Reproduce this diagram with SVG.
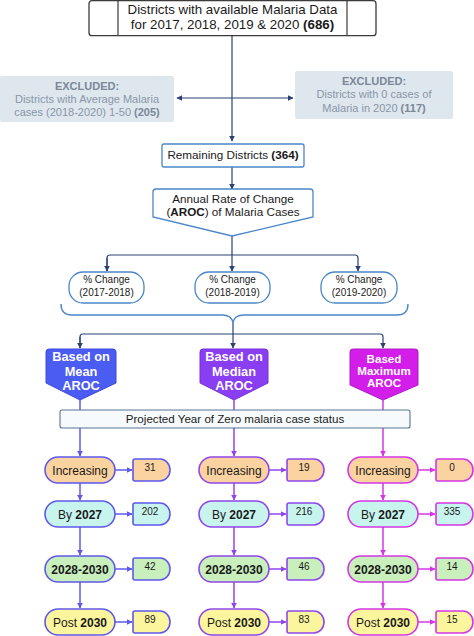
<svg xmlns="http://www.w3.org/2000/svg" width="474" height="636" viewBox="0 0 474 636">
<defs>
<marker id="aN" viewBox="0 0 10 10" refX="9" refY="5" markerWidth="6" markerHeight="6" markerUnits="userSpaceOnUse" orient="auto"><path d="M0,0 L10,5 L0,10 Z" fill="#2b4270"/></marker>
<marker id="a1" viewBox="0 0 10 10" refX="9" refY="5" markerWidth="6" markerHeight="6" markerUnits="userSpaceOnUse" orient="auto"><path d="M0,0 L10,5 L0,10 Z" fill="#5e58ec"/></marker>
<marker id="a2" viewBox="0 0 10 10" refX="9" refY="5" markerWidth="6" markerHeight="6" markerUnits="userSpaceOnUse" orient="auto"><path d="M0,0 L10,5 L0,10 Z" fill="#9046ec"/></marker>
<marker id="a3" viewBox="0 0 10 10" refX="9" refY="5" markerWidth="6" markerHeight="6" markerUnits="userSpaceOnUse" orient="auto"><path d="M0,0 L10,5 L0,10 Z" fill="#d436e4"/></marker>
</defs>
<style>
text{font-family:"Liberation Sans",Arial,sans-serif;text-anchor:middle;}
.b{font-weight:bold;}
.top{font-size:13.3px;fill:#1a1a1a;}
.ex{font-size:11px;fill:#8796a6;}
.exb{font-size:11px;fill:#7a8898;font-weight:bold;}
.mid{font-size:11.7px;fill:#1a1a1a;}
.pc{font-size:10px;fill:#1a1a1a;}
.pent{font-size:12.8px;fill:#ffffff;font-weight:bold;}
.pentm{font-size:11.6px;fill:#ffffff;font-weight:bold;}
.pill{font-size:12px;fill:#1a1a1a;}
.num{font-size:10px;fill:#1a1a1a;}
.blue{fill:#ffffff;stroke:#4a86c8;stroke-width:1.3;}
.exbox{fill:#dfe7ee;stroke:none;}
.nav{fill:none;stroke:#2b4270;stroke-width:1.2;}
.br{fill:none;stroke:#4a86c8;stroke-width:1.4;}
.c1{stroke:#5e58ec;}
.c2{stroke:#9046ec;}
.c3{stroke:#d436e4;}
.ln{fill:none;stroke-width:1.5;}
.inc{fill:#fad3a0;stroke-width:1.6;}
.by{fill:#c8f4ee;stroke-width:1.6;}
.mid2{fill:#c9efbd;stroke-width:1.6;}
.post{fill:#fbf69e;stroke-width:1.6;}
</style>

<g id="connectors">
<path class="nav" d="M232,36 V141" stroke="#5a6a85" marker-end="url(#aN)"/>
<path class="nav" d="M232,98 H177" marker-end="url(#aN)"/>
<path class="nav" d="M232,98 H293" marker-end="url(#aN)"/>
<path class="nav" d="M232,167 V189" marker-end="url(#aN)"/>
<path class="nav" d="M232,236 V255"/>
<path class="nav" d="M107,271 V258 Q107,255 110,255 H355 Q358,255 358,258 V271" marker-end="url(#aN)"/>
<path class="nav" d="M107,258 V271" marker-end="url(#aN)"/>
<path class="nav" d="M232,255 V271" marker-end="url(#aN)"/>
<path class="br" d="M61,304 Q61,315 72,315 H222 Q232,315 233,323 Q234,315 244,315 H397 Q408,315 408,304"/>
<path class="nav" d="M233,323 V334"/>
<path class="nav" d="M80,348 V337 Q80,334 83,334 H380 Q383,334 383,337 V348" marker-end="url(#aN)"/>
<path class="nav" d="M80,337 V348" marker-end="url(#aN)"/>
<path class="nav" d="M233,334 V348" marker-end="url(#aN)"/>
<path class="ln c1" d="M80,400 V456" marker-end="url(#a1)"/>
<path class="ln c2" d="M234,400 V456" marker-end="url(#a2)"/>
<path class="ln c3" d="M383,400 V456" marker-end="url(#a3)"/>
<path class="ln c1" d="M80,483 V500" marker-end="url(#a1)"/>
<path class="ln c1" d="M80,527 V555" marker-end="url(#a1)"/>
<path class="ln c1" d="M80,582 V608" marker-end="url(#a1)"/>
<path class="ln c2" d="M234,483 V500" marker-end="url(#a2)"/>
<path class="ln c2" d="M234,527 V555" marker-end="url(#a2)"/>
<path class="ln c2" d="M234,582 V608" marker-end="url(#a2)"/>
<path class="ln c3" d="M383,483 V500" marker-end="url(#a3)"/>
<path class="ln c3" d="M383,527 V555" marker-end="url(#a3)"/>
<path class="ln c3" d="M383,582 V608" marker-end="url(#a3)"/>
<path class="ln c1" d="M115,470 H132" marker-end="url(#a1)"/>
<path class="ln c1" d="M115,514 H132" marker-end="url(#a1)"/>
<path class="ln c1" d="M115,569 H132" marker-end="url(#a1)"/>
<path class="ln c1" d="M115,622 H132" marker-end="url(#a1)"/>
<path class="ln c2" d="M269,470 H286" marker-end="url(#a2)"/>
<path class="ln c2" d="M269,514 H286" marker-end="url(#a2)"/>
<path class="ln c2" d="M269,569 H286" marker-end="url(#a2)"/>
<path class="ln c2" d="M269,622 H286" marker-end="url(#a2)"/>
<path class="ln c3" d="M418,470 H435" marker-end="url(#a3)"/>
<path class="ln c3" d="M418,514 H435" marker-end="url(#a3)"/>
<path class="ln c3" d="M418,569 H435" marker-end="url(#a3)"/>
<path class="ln c3" d="M418,622 H435" marker-end="url(#a3)"/>
</g>

<g id="n-top">
<rect x="89" y="0.7" width="287" height="35" rx="3" fill="#ffffff" stroke="#3a3a3a" stroke-width="1.3"/>
<path d="M118,0.7 V35.7 M347,0.7 V35.7" stroke="#3a3a3a" stroke-width="1.2"/>
<text class="top" x="232.5" y="14">Districts with available Malaria Data</text>
<text class="top" x="232.5" y="29">for 2017, 2018, 2019 &amp; 2020 <tspan class="b">(686)</tspan></text>
</g>

<g id="n-excl-left">
<rect class="exbox" x="0" y="76" width="174" height="46" rx="2"/>
<text class="exb" x="87" y="90">EXCLUDED:</text>
<text class="ex" x="87" y="103">Districts with Average Malaria</text>
<text class="ex" x="87" y="116">cases (2018-2020) 1-50 <tspan class="b" fill="#7a8898">(205)</tspan></text>
</g>

<g id="n-excl-right">
<rect class="exbox" x="295" y="71" width="158" height="48" rx="2"/>
<text class="exb" x="374" y="85">EXCLUDED:</text>
<text class="ex" x="374" y="98">Districts with 0 cases of</text>
<text class="ex" x="374" y="112">Malaria in 2020 <tspan class="b" fill="#7a8898">(117)</tspan></text>
</g>

<g id="n-remaining">
<rect class="blue" x="162" y="144" width="142" height="23" rx="2"/>
<text class="mid" x="233" y="159">Remaining Districts <tspan class="b">(364)</tspan></text>
</g>

<g id="n-aroc">
<path class="blue" d="M153,192 Q153,189 156,189 H310 Q313,189 313,192 V217 L232,236 L153,217 Z"/>
<text class="mid" x="233" y="203">Annual Rate of Change</text>
<text class="mid" x="233" y="216">(<tspan class="b">AROC</tspan>) of Malaria Cases</text>
</g>

<g id="n-pc1">
<rect class="blue" x="69" y="272" width="75" height="31" rx="14"/>
<text class="pc" x="106.5" y="283">% Change</text>
<text class="pc" x="106.5" y="296">(2017-2018)</text>
</g>
<g id="n-pc2">
<rect class="blue" x="195" y="272" width="75" height="31" rx="14"/>
<text class="pc" x="232.5" y="283">% Change</text>
<text class="pc" x="232.5" y="296">(2018-2019)</text>
</g>
<g id="n-pc3">
<rect class="blue" x="321" y="272" width="76" height="31" rx="14"/>
<text class="pc" x="359" y="283">% Change</text>
<text class="pc" x="359" y="296">(2019-2020)</text>
</g>

<g id="n-mean">
<path d="M46,352 Q46,349 49,349 H113 Q116,349 116,352 V383 L80,400 L46,383 Z" fill="#4a5cf2" stroke="#3c4ad8" stroke-width="1"/>
<text class="pent" x="81" y="361">Based on</text>
<text class="pent" x="81" y="376">Mean</text>
<text class="pent" x="81" y="390">AROC</text>
</g>
<g id="n-median">
<path d="M200,352 Q200,349 203,349 H265 Q268,349 268,352 V383 L234,400 L200,383 Z" fill="#8a3ef2" stroke="#7430d8" stroke-width="1"/>
<text class="pent" x="234" y="361">Based on</text>
<text class="pent" x="234" y="376">Median</text>
<text class="pent" x="234" y="390">AROC</text>
</g>
<g id="n-max">
<path d="M350,352 Q350,349 353,349 H415 Q418,349 418,352 V385 L383,400 L350,385 Z" fill="#d21ee8" stroke="#b018c8" stroke-width="1"/>
<text class="pentm" x="384" y="363">Based</text>
<text class="pentm" x="384" y="375">Maximum</text>
<text class="pentm" x="384" y="387">AROC</text>
</g>

<g id="n-projected">
<rect x="60" y="410" width="350" height="18" rx="2" fill="#f6fafc" stroke="#5a7494" stroke-width="1.1"/>
<text class="mid" x="235" y="423" style="font-size:11.6px">Projected Year of Zero malaria case status</text>
</g>

<g id="n-c1-inc"><rect class="inc c1" x="45" y="457" width="70" height="26" rx="13"/><text class="pill" x="80" y="474.5">Increasing</text></g>
<g id="n-c1-by"><rect class="by c1" x="45" y="501" width="70" height="26" rx="13"/><text class="pill" x="80" y="518.5">By <tspan class="b">2027</tspan></text></g>
<g id="n-c1-mid"><rect class="mid2 c1" x="45" y="556" width="70" height="26" rx="13"/><text class="pill b" x="80" y="573.5">2028-2030</text></g>
<g id="n-c1-post"><rect class="post c1" x="45" y="609" width="70" height="26" rx="13"/><text class="pill" x="80" y="626.5">Post <tspan class="b">2030</tspan></text></g>

<g id="n-c2-inc"><rect class="inc c2" x="199" y="457" width="70" height="26" rx="13"/><text class="pill" x="234" y="474.5">Increasing</text></g>
<g id="n-c2-by"><rect class="by c2" x="199" y="501" width="70" height="26" rx="13"/><text class="pill" x="234" y="518.5">By <tspan class="b">2027</tspan></text></g>
<g id="n-c2-mid"><rect class="mid2 c2" x="199" y="556" width="70" height="26" rx="13"/><text class="pill b" x="234" y="573.5">2028-2030</text></g>
<g id="n-c2-post"><rect class="post c2" x="199" y="609" width="70" height="26" rx="13"/><text class="pill" x="234" y="626.5">Post <tspan class="b">2030</tspan></text></g>

<g id="n-c3-inc"><rect class="inc c3" x="348" y="457" width="70" height="26" rx="13"/><text class="pill" x="383" y="474.5">Increasing</text></g>
<g id="n-c3-by"><rect class="by c3" x="348" y="501" width="70" height="26" rx="13"/><text class="pill" x="383" y="518.5">By <tspan class="b">2027</tspan></text></g>
<g id="n-c3-mid"><rect class="mid2 c3" x="348" y="556" width="70" height="26" rx="13"/><text class="pill b" x="383" y="573.5">2028-2030</text></g>
<g id="n-c3-post"><rect class="post c3" x="348" y="609" width="70" height="26" rx="13"/><text class="pill" x="383" y="626.5">Post <tspan class="b">2030</tspan></text></g>

<g id="n-c1-n1"><path class="inc c1" d="M133,461 Q133,459 135,459 H160 A10,11 0 0 1 160,481 H135 Q133,481 133,479 Z"/><text class="num" x="150" y="470.5">31</text></g>
<g id="n-c1-n2"><path class="by c1" d="M133,505 Q133,503 135,503 H160 A10,11 0 0 1 160,525 H135 Q133,525 133,523 Z"/><text class="num" x="150" y="514.5">202</text></g>
<g id="n-c1-n3"><path class="mid2 c1" d="M133,560 Q133,558 135,558 H160 A10,11 0 0 1 160,580 H135 Q133,580 133,578 Z"/><text class="num" x="150" y="569.5">42</text></g>
<g id="n-c1-n4"><path class="post c1" d="M133,613 Q133,611 135,611 H160 A10,11 0 0 1 160,633 H135 Q133,633 133,631 Z"/><text class="num" x="150" y="622.5">89</text></g>

<g id="n-c2-n1"><path class="inc c2" d="M287,461 Q287,459 289,459 H314 A10,11 0 0 1 314,481 H289 Q287,481 287,479 Z"/><text class="num" x="304" y="470.5">19</text></g>
<g id="n-c2-n2"><path class="by c2" d="M287,505 Q287,503 289,503 H314 A10,11 0 0 1 314,525 H289 Q287,525 287,523 Z"/><text class="num" x="304" y="514.5">216</text></g>
<g id="n-c2-n3"><path class="mid2 c2" d="M287,560 Q287,558 289,558 H314 A10,11 0 0 1 314,580 H289 Q287,580 287,578 Z"/><text class="num" x="304" y="569.5">46</text></g>
<g id="n-c2-n4"><path class="post c2" d="M287,613 Q287,611 289,611 H314 A10,11 0 0 1 314,633 H289 Q287,633 287,631 Z"/><text class="num" x="304" y="622.5">83</text></g>

<g id="n-c3-n1"><path class="inc c3" d="M436,461 Q436,459 438,459 H463 A10,11 0 0 1 463,481 H438 Q436,481 436,479 Z"/><text class="num" x="452" y="470.5">0</text></g>
<g id="n-c3-n2"><path class="by c3" d="M436,505 Q436,503 438,503 H463 A10,11 0 0 1 463,525 H438 Q436,525 436,523 Z"/><text class="num" x="452" y="514.5">335</text></g>
<g id="n-c3-n3"><path class="mid2 c3" d="M436,560 Q436,558 438,558 H463 A10,11 0 0 1 463,580 H438 Q436,580 436,578 Z"/><text class="num" x="452" y="569.5">14</text></g>
<g id="n-c3-n4"><path class="post c3" d="M436,613 Q436,611 438,611 H463 A10,11 0 0 1 463,633 H438 Q436,633 436,631 Z"/><text class="num" x="452" y="622.5">15</text></g>
</svg>
